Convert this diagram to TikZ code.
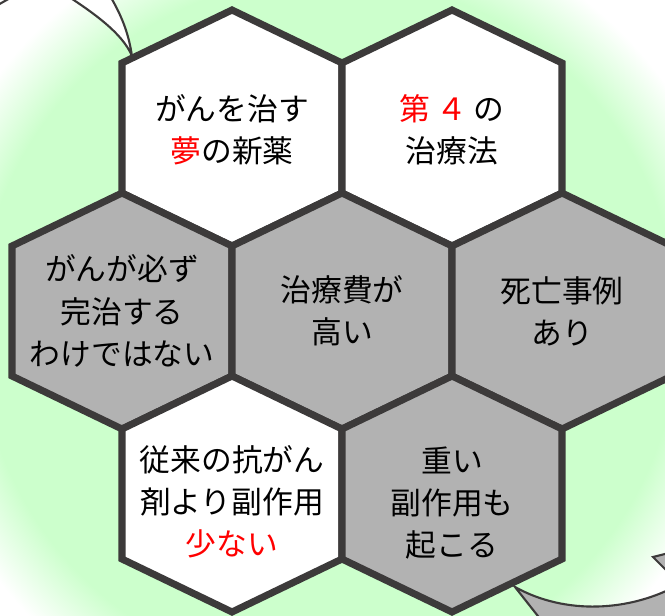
\documentclass[tikz,border=0pt]{standalone}
\usepackage{fontspec}
\usepackage{tikz}
\newfontfamily\jpfont{Noto Sans CJK JP}

\definecolor{bggreen}{RGB}{204,255,204}
\definecolor{hexgray}{RGB}{178,178,178}
\definecolor{hexline}{RGB}{60,58,58}
\pgfdeclareradialshading{glow}{\pgfpointorigin}{color(0bp)=(bggreen); color(17.5bp)=(bggreen); color(20.8bp)=(white); color(50bp)=(white)}

\begin{document}
\begin{tikzpicture}[x=0.02cm, y=-0.02cm,
    hexagon/.style={draw=hexline, line width=4pt},
    hextext/.style={align=center, text=black, font=\jpfont\fontsize{17.5}{24}\selectfont},
    roundarrow/.style={draw=hexline, line width=1.2pt}]

    % Fix the frame
    \useasboundingbox (0,0) rectangle (665,615);

    % Draw the green glow behind the cells
    \begin{scope}
        \clip (0,0) rectangle (665,615);
        \fill[white] (0,0) rectangle (665,615);
        \shade[shading=glow] (328,327) circle[radius=10cm];

        % Draw the two curved arrows round the cells
        \draw[roundarrow, fill=white] (132,56) .. controls (128,30) and (120,10) .. (100,-20) -- (60,-40) -- (-40,-40) -- (-20,15) -- (12,-3) -- (55,-12) .. controls (90,10) and (122,32) .. cycle;
        \draw[roundarrow, fill=hexgray] (515,587) .. controls (565,615) and (630,612) .. (680,584) -- (653,557) -- (720,540) -- (760,660) -- (700,660) -- (545,625) -- cycle;
    \end{scope}

    % Draw the cells
    \foreach \cx/\cy/\col in {232/128/white, 452/128/white, 122/311/hexgray, 342/311/hexgray, 562/311/hexgray, 232/494/white, 452/494/hexgray}
        \draw[hexagon, fill=\col, shift={(\cx,\cy)}] (-110,-65) -- (0,-118) -- (110,-65) -- (110,65) -- (0,118) -- (-110,65) -- cycle;

    % Put the texts in the cells
    \node[hextext] (cure) at (232,130) {がんを治す\\{\color{red}夢}の新薬};
    \node[hextext] (fourth) at (452,130) {{\color{red}第\hspace{0.2em}４\hspace{0.2em}}の\\治療法};
    \node[hextext] (notcure) at (122,311) {がんが必ず\\完治する\\わけではない};
    \node[hextext] (cost) at (342,311) {治療費が\\高い};
    \node[hextext] (death) at (562,311) {死亡事例\\あり};
    \node[hextext] (fewer) at (232,502) {従来の抗がん\\剤より副作用\\{\color{red}少ない}};
    \node[hextext] (severe) at (452,503) {重い\\副作用も\\起こる};
\end{tikzpicture}
\end{document}
